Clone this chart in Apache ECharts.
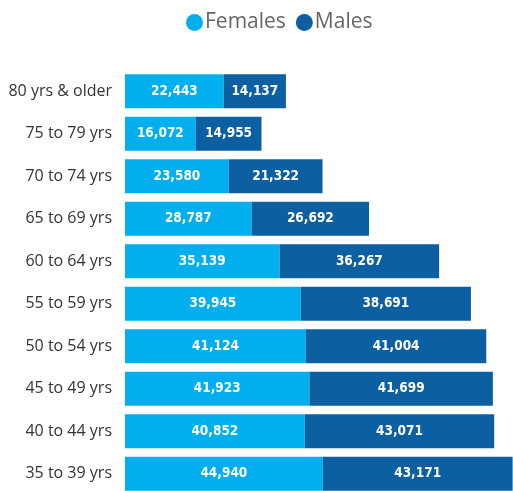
<!DOCTYPE html>
<html>
<head>
<meta charset="utf-8">
<script src="https://cdn.jsdelivr.net/npm/echarts@6/dist/echarts.min.js"></script>
<style>
  html, body { margin: 0; padding: 0; background: #fff; }
  #chart { width: 513px; height: 491px; }
</style>
</head>
<body>
<div id="chart"></div>
<script>
// bottom to top, as the y axis draws them
const ageGroups = ['35 to 39 yrs', '40 to 44 yrs', '45 to 49 yrs', '50 to 54 yrs', '55 to 59 yrs',
  '60 to 64 yrs', '65 to 69 yrs', '70 to 74 yrs', '75 to 79 yrs', '80 yrs & older']
const females = [44940, 40852, 41923, 41124, 39945, 35139, 28787, 23580, 16072, 22443]
const males = [43171, 43071, 41699, 41004, 38691, 36267, 26692, 21322, 14955, 14137]

const fmt = v => v.toLocaleString('en-US')

const barLabel = {
  show: true,
  position: 'inside',
  color: '#fff',
  fontFamily: 'DejaVu Sans Condensed',
  fontWeight: 'bold',
  fontSize: 13.5,
  formatter: p => fmt(p.value)
}

const chart = echarts.init(document.getElementById('chart'))
chart.setOption({
  animation: false,
  backgroundColor: '#fff',
  legend: {
    top: 7,
    left: 181,
    icon: 'circle',
    itemWidth: 17,
    itemHeight: 17,
    itemGap: 10,
    textStyle: { color: '#666', fontSize: 21, fontFamily: 'Open Sans', padding: [0, 0, 0, -3] },
    data: ['Females', 'Males']
  },
  grid: { left: 125, top: 70, right: 0, bottom: -4, outerBoundsMode: 'none' },
  xAxis: { type: 'value', min: 0, max: 88200, show: false },
  yAxis: {
    type: 'category',
    data: ageGroups,
    axisLine: { show: false },
    axisTick: { show: false },
    axisLabel: { color: '#333', fontSize: 16, fontFamily: 'Open Sans', margin: 13 }
  },
  series: [
    {
      name: 'Females', type: 'bar', stack: 'pop', data: females,
      barWidth: '80%',
      itemStyle: { color: '#02AFEE' },
      label: barLabel
    },
    {
      name: 'Males', type: 'bar', stack: 'pop', data: males,
      barWidth: '80%',
      itemStyle: { color: '#0C5FA0' },
      label: barLabel
    }
  ]
})
</script>
</body>
</html>
